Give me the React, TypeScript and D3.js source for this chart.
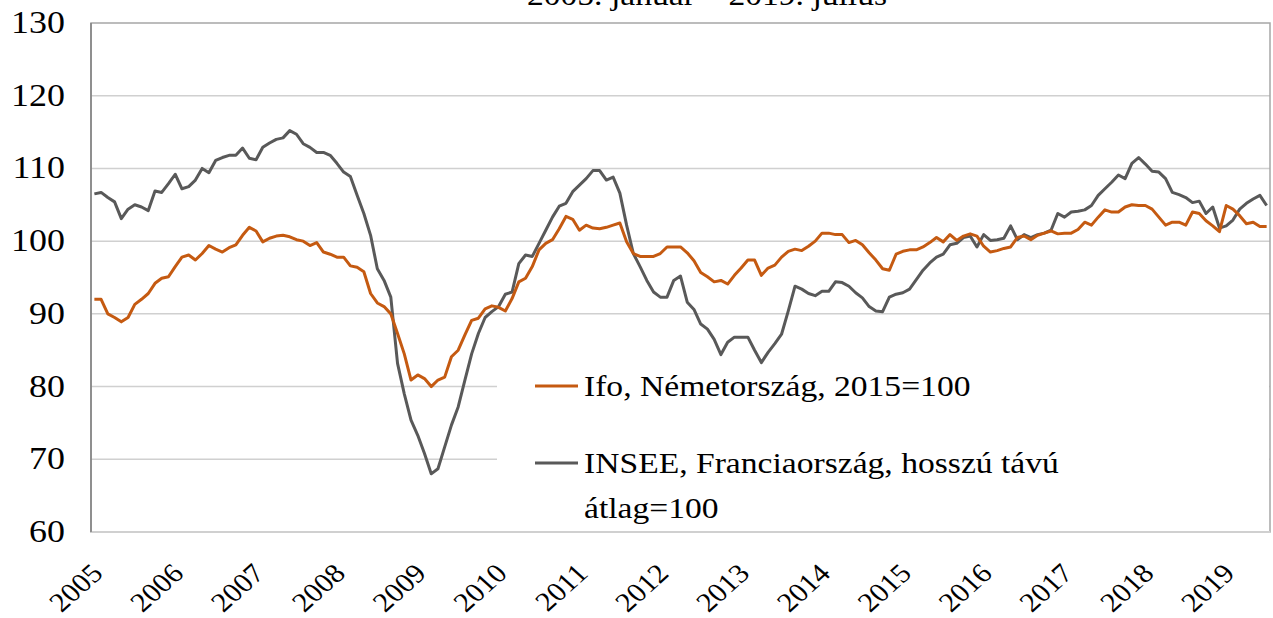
import React from 'react';
import * as d3 from 'd3';

// Ifo (Németország, 2015=100), havi adatok 2005. jan - 2019. júl
const ifo = [
  92.0, 92.0, 90.0, 89.5, 88.9, 89.5, 91.3, 92.0, 92.8, 94.2, 94.9, 95.1,
  96.5, 97.8, 98.1, 97.4, 98.3, 99.4, 98.9, 98.5, 99.1, 99.5, 100.8, 101.9,
  101.4, 99.9, 100.4, 100.7, 100.8, 100.6, 100.2, 100.0, 99.4, 99.8, 98.5, 98.2,
  97.8, 97.8, 96.6, 96.4, 95.8, 92.8, 91.5, 91.0, 90.0, 87.3, 84.5, 80.9,
  81.6, 81.1, 80.0, 80.9, 81.3, 84.1, 85.0, 87.1, 89.1, 89.4, 90.7, 91.1,
  90.9, 90.4, 92.1, 94.4, 94.9, 96.5, 98.8, 99.7, 100.2, 101.7, 103.4, 103.0,
  101.5, 102.2, 101.8, 101.7, 101.9, 102.2, 102.5, 99.9, 98.3, 97.9, 97.9, 97.9,
  98.3, 99.2, 99.2, 99.2, 98.4, 97.3, 95.7, 95.1, 94.4, 94.6, 94.1, 95.3,
  96.3, 97.4, 97.4, 95.3, 96.3, 96.7, 97.8, 98.6, 98.9, 98.7, 99.3, 100.0,
  101.1, 101.1, 100.9, 100.9, 99.8, 100.1, 99.5, 98.4, 97.4, 96.2, 96.0, 98.2,
  98.6, 98.8, 98.8, 99.2, 99.8, 100.5, 99.9, 100.9, 100.1, 100.7, 101.0, 100.7,
  99.3, 98.5, 98.7, 99.0, 99.2, 100.5, 100.7, 100.2, 100.8, 101.1, 101.4, 101.0,
  101.1, 101.1, 101.6, 102.6, 102.2, 103.3, 104.3, 104.0, 104.0, 104.7, 105.0, 104.9,
  104.9, 104.4, 103.3, 102.2, 102.6, 102.6, 102.2, 104.0, 103.8, 102.8, 102.1, 101.3,
  104.9, 104.4, 103.5, 102.4, 102.6, 102.0, 102.0,
];

// INSEE (Franciaország, hosszú távú átlag=100)
const insee = [
  106.5, 106.7, 106.0, 105.4, 103.1, 104.4, 105.0, 104.7, 104.2, 106.9, 106.7, 107.9,
  109.2, 107.2, 107.5, 108.4, 110.0, 109.4, 111.1, 111.5, 111.8, 111.8, 112.8, 111.4,
  111.2, 112.9, 113.5, 114.0, 114.2, 115.2, 114.7, 113.4, 112.9, 112.2, 112.2, 111.8,
  110.7, 109.5, 108.9, 106.3, 103.8, 100.8, 96.2, 94.6, 92.3, 83.2, 79.0, 75.4,
  73.3, 70.8, 68.0, 68.7, 71.7, 74.7, 77.2, 80.9, 84.5, 87.3, 89.5, 90.3,
  91.0, 92.7, 93.0, 96.9, 98.1, 97.9, 99.7, 101.5, 103.3, 104.8, 105.2, 106.8,
  107.7, 108.6, 109.7, 109.7, 108.4, 108.8, 106.6, 102.2, 98.3, 96.5, 94.6, 93.0,
  92.3, 92.3, 94.6, 95.2, 91.6, 90.6, 88.6, 87.9, 86.5, 84.4, 86.1, 86.8,
  86.8, 86.8, 85.0, 83.3, 84.7, 85.9, 87.2, 90.4, 93.8, 93.4, 92.8, 92.5,
  93.1, 93.1, 94.4, 94.3, 93.8, 92.9, 92.2, 91.0, 90.4, 90.3, 92.3, 92.7,
  92.9, 93.4, 94.7, 96.0, 97.0, 97.8, 98.2, 99.5, 99.7, 100.5, 100.7, 99.2,
  100.9, 100.1, 100.2, 100.4, 102.1, 100.2, 100.9, 100.5, 100.9, 101.1, 101.5, 103.8,
  103.3, 104.0, 104.1, 104.3, 104.9, 106.3, 107.2, 108.1, 109.1, 108.6, 110.7, 111.5,
  110.6, 109.6, 109.5, 108.6, 106.7, 106.4, 106.0, 105.3, 105.5, 103.8, 104.7, 101.8,
  102.1, 102.9, 104.4, 105.2, 105.8, 106.3, 104.9,
];

const years = ['2005', '2006', '2007', '2008', '2009', '2010', '2011', '2012',
  '2013', '2014', '2015', '2016', '2017', '2018', '2019'];
const yTicks = [60, 70, 80, 90, 100, 110, 120, 130];

const title = '2005. január – 2019. július';
const legendIfo = 'Ifo, Németország, 2015=100';
const legendInsee1 = 'INSEE, Franciaország, hosszú távú';
const legendInsee2 = 'átlag=100';

const ORANGE = '#c55a11';
const GRAY = '#595959';
const FONT = '"Liberation Serif", "Times New Roman", serif';
const SX = 1.12; // a forrás kissé szélesre nyújtott betűi

export default function App() {
  const W = 1273, H = 618;
  const left = 91, right = 1270, top = 23, bottom = 532;
  const n = ifo.length;

  const x = d3.scaleLinear().domain([0, n]).range([left, right]);
  const y = d3.scaleLinear().domain([60, 130]).range([bottom, top]);

  const line = d3.line<number>()
    .x((_, i) => x(i + 0.5))
    .y(d => y(d));

  const fs = 30;

  return (
    <svg width={W} height={H} style={{ position: 'absolute', left: 0, top: 0, background: '#fff' }}
      fontFamily={FONT}>
      <rect x={0} y={0} width={W} height={H} fill="#fff" />
      <text transform={`translate(707,5) scale(${SX},1)`} textAnchor="middle" fontSize={fs} fill="#000">{title}</text>

      {/* rácsvonalak */}
      {yTicks.filter(t => t > 60 && t < 130).map(t => (
        <line key={t} x1={left} x2={right} y1={y(t)} y2={y(t)} stroke="#d0d0d0" strokeWidth={1.5} />
      ))}
      <rect x={left} y={top} width={right - left} height={bottom - top} fill="none" stroke="#a6a6a6" strokeWidth={1.5} />
      <line x1={left} x2={right} y1={bottom} y2={bottom} stroke="#d0d0d0" strokeWidth={2} />
      <line x1={left} x2={left} y1={top} y2={bottom} stroke="#808080" strokeWidth={1.5} />

      <path d={line(insee) || ''} fill="none" stroke={GRAY} strokeWidth={3} strokeLinejoin="round" />
      <path d={line(ifo) || ''} fill="none" stroke={ORANGE} strokeWidth={3} strokeLinejoin="round" />

      {/* y tengely */}
      {yTicks.map(t => (
        <text key={t} transform={`translate(65,${y(t) + 10}) scale(${SX + 0.04},1)`} textAnchor="end" fontSize={fs + 1} fill="#000">{t}</text>
      ))}

      {/* x tengely */}
      {years.map((yr, k) => (
        <text key={yr} transform={`translate(${x(k * 12 + 0.5) + 10},575) scale(${SX},1) rotate(-45)`}
          textAnchor="end" fontSize={fs - 3} fill="#000">{yr}</text>
      ))}

      {/* jelmagyarázat */}
      <rect x={497} y={366} width={right - 497 - 1} height={bottom - 366 - 1} fill="#fff" />
      <line x1={535} x2={578} y1={386} y2={386} stroke={ORANGE} strokeWidth={3} />
      <text transform={`translate(584,396) scale(${SX},1)`} fontSize={fs} fill="#000">{legendIfo}</text>
      <line x1={535} x2={578} y1={463} y2={463} stroke={GRAY} strokeWidth={3} />
      <text transform={`translate(584,473) scale(${SX},1)`} fontSize={fs} fill="#000">{legendInsee1}</text>
      <text transform={`translate(584,518) scale(${SX},1)`} fontSize={fs} fill="#000">{legendInsee2}</text>
    </svg>
  );
}
